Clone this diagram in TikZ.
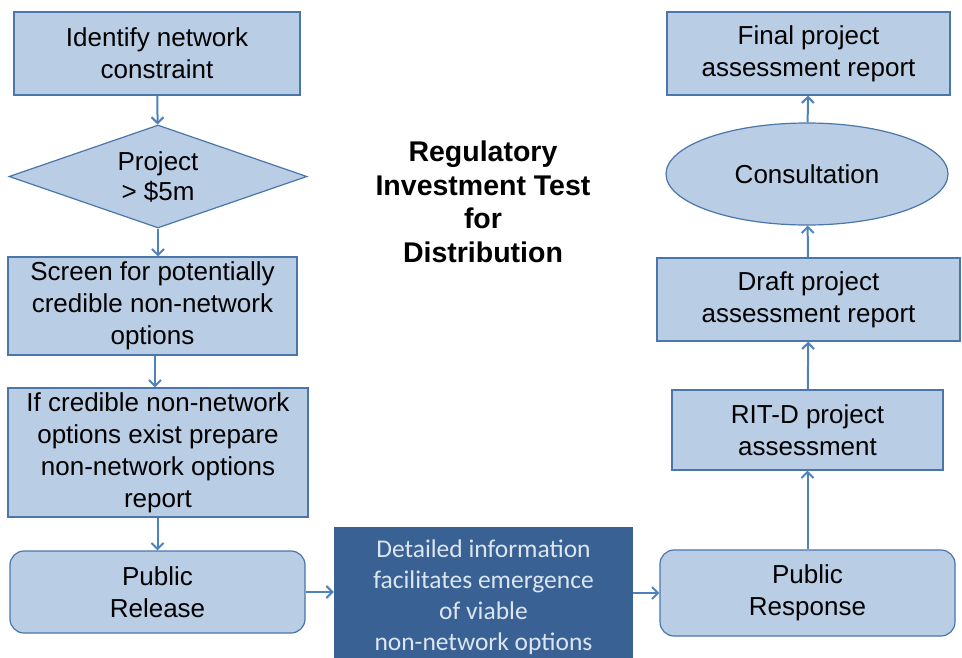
\documentclass[tikz,border=0pt]{standalone}
\usepackage{fontspec}
\setmainfont{Liberation Sans}
\newfontfamily\calibri{Carlito}
\usetikzlibrary{arrows.meta, shapes.geometric}

\definecolor{boxfill}{HTML}{B9CDE5}
\definecolor{boxline}{HTML}{4A76AA}
\definecolor{darkfill}{HTML}{3A6193}
\definecolor{darktext}{HTML}{DCE6F2}
\definecolor{arrowcol}{HTML}{4F81BD}

\begin{document}
\begin{tikzpicture}[
  x=1pt, y=-1pt,
  box/.style={draw=boxline, fill=boxfill, line width=1.2pt, align=center,
    font=\fontsize{26}{32}\selectfont, inner sep=0pt},
  roundbox/.style={box, rounded corners=14pt},
  decision/.style={box, diamond, shape aspect=2.9},
  talk/.style={box, ellipse},
  infobox/.style={fill=darkfill, text=darktext, align=center, inner sep=0pt,
    font=\calibri\fontsize{25.5}{31}\selectfont},
  arrow/.style={-{Straight Barb[length=6pt, width=12pt]}, line width=2pt, draw=arrowcol},
]
  \useasboundingbox (0,0) rectangle (962,657);

  % left column, top to bottom
  \node[box, minimum width=286, minimum height=83] (ident) at (157,53.5) {Identify network\\constraint};
  \node[decision, minimum width=298, minimum height=103] (proj) at (158,176.5) {Project\\[-2pt]> \$5m};
  \node[box, minimum width=289, minimum height=98] (screen) at (152.5,306) {Screen for potentially\\credible non-network\\options};
  \node[box, minimum width=300, minimum height=129] (ifcred) at (158,452.5) {If credible non-network\\options exist prepare\\non-network options\\report};
  \node[roundbox, minimum width=295, minimum height=82] (pubrel) at (157.5,592) {Public\\Release};

  % bottom middle
  \node[infobox, minimum width=299, minimum height=140] (detail) at (483.5,597) {Detailed information\\facilitates emergence\\of viable\\non-network options};

  % right column, bottom to top
  \node[roundbox, minimum width=295, minimum height=86] (pubresp) at (807.5,593) {Public\\Response};
  \node[box, minimum width=271, minimum height=80] (ritd) at (807.5,430) {RIT-D project\\assessment};
  \node[box, minimum width=303, minimum height=83] (draft) at (808.5,299.5) {Draft project\\assessment report};
  \node[talk, minimum width=282, minimum height=102] (consult) at (807,174) {Consultation};
  \node[box, minimum width=283, minimum height=83] (final) at (808.5,53.5) {Final project\\assessment report};

  % title
  \node[align=center, font=\bfseries\fontsize{28.5}{33.5}\selectfont] (title) at (483,202) {Regulatory\\Investment Test\\for\\Distribution};

  \draw[arrow] (ident) -- (proj);
  \draw[arrow] (proj.south) -- (proj.south |- screen.north);
  \draw[arrow] (screen.south -| 155,0) -- (ifcred.north -| 155,0);
  \draw[arrow] (ifcred.south -| pubrel.north) -- (pubrel.north);
  \draw[arrow] (pubrel.east) -- (pubrel.east -| detail.west);
  \draw[arrow] (detail.east |- pubresp.west) -- (pubresp.west);
  \draw[arrow] (pubresp) -- (ritd);
  \draw[arrow] (ritd) -- (draft);
  \draw[arrow] (draft) -- (consult);
  \draw[arrow] (consult) -- (final);
\end{tikzpicture}
\end{document}
